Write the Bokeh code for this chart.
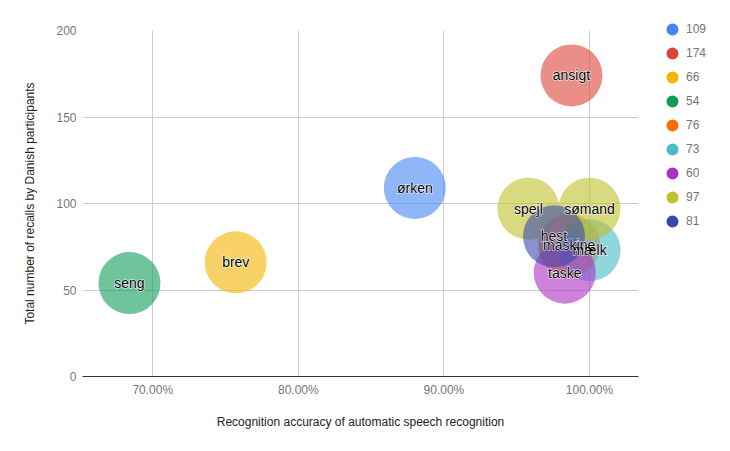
from bokeh.plotting import figure
from bokeh.models import ColumnDataSource, FixedTicker, NumeralTickFormatter, Range1d, Legend, LegendItem
from bokeh.embed import file_html
from bokeh.resources import INLINE
from bokeh.core.properties import value

# ---- data ----
words = ["ørken", "ansigt", "brev", "seng", "maskine", "mælk", "taske", "spejl", "sømand", "hest"]
accuracy = [0.880, 0.9876, 0.757, 0.684, 0.986, 1.000, 0.983, 0.958, 1.000, 0.9756]
recalls = [109, 174, 66, 54, 76, 73, 60, 97, 97, 81]
series = ["109", "174", "66", "54", "76", "73", "60", "97", "81"]
series_colors = ["#4285f4", "#db4437", "#f4b400", "#0f9d58", "#ff6d00",
                 "#46bdc6", "#ab30c4", "#c0c02a", "#3949ab"]
x_ticks = [0.7, 0.8, 0.9, 1.0]
y_ticks = [0, 50, 100, 150, 200]

FONT = "Liberation Sans"
cmap = dict(zip(series, series_colors))
point_colors = [cmap[str(v)] for v in recalls]

src = ColumnDataSource(dict(x=accuracy, y=recalls, word=words, color=point_colors))

p = figure(width=730, height=451, output_backend="svg", toolbar_location=None,
           x_range=Range1d(0.65174, 1.03364), y_range=Range1d(0, 200),
           frame_width=556, frame_height=346,
           min_border_left=82, min_border_right=92, min_border_top=30, min_border_bottom=75)
p.outline_line_color = None
p.background_fill_color = "white"

p.scatter("x", "y", source=src, size=62, fill_color="color", fill_alpha=0.6, line_color=None)
p.text("x", "y", text="word", source=src, text_align="center", text_baseline="middle",
       text_font=value(FONT), text_font_size="14px", text_color="white",
       text_outline_color="white")
p.text("x", "y", text="word", source=src, text_align="center", text_baseline="middle",
       text_font=value(FONT), text_font_size="14px", text_color="black")

# axes
p.xaxis.ticker = FixedTicker(ticks=x_ticks)
p.yaxis.ticker = FixedTicker(ticks=y_ticks)
p.xaxis.formatter = NumeralTickFormatter(format="0.00%")
p.xaxis.axis_label = "Recognition accuracy of automatic speech recognition"
p.yaxis.axis_label = "Total number of recalls by Danish participants"
for ax in (p.xaxis, p.yaxis):
    ax.major_tick_line_color = None
    ax.minor_tick_line_color = None
    ax.major_label_text_font = FONT
    ax.major_label_text_font_size = "12px"
    ax.major_label_text_color = "#757575"
    ax.axis_label_text_font = FONT
    ax.axis_label_text_font_size = "12px"
    ax.axis_label_text_font_style = "normal"
    ax.axis_label_text_color = "#222222"
p.yaxis.axis_line_color = None
p.xaxis.axis_line_color = "#333333"
p.xaxis.major_label_standoff = 0
p.xaxis.axis_label_standoff = 15
p.yaxis.major_label_standoff = 0
p.yaxis.axis_label_standoff = 16

p.xgrid.ticker = FixedTicker(ticks=x_ticks)
p.ygrid.ticker = FixedTicker(ticks=y_ticks)
p.grid.grid_line_color = "#cccccc"
p.grid.minor_grid_line_color = None

# legend (hidden proxy renderers holding each series' points, opaque legend dots)
items = []
for s, c in zip(series, series_colors):
    xs = [a for a, v in zip(accuracy, recalls) if str(v) == s]
    ys = [v for v in recalls if str(v) == s]
    r = p.scatter(x=xs, y=ys, size=12, fill_color=c, line_color=c, line_width=2.4)
    r.visible = False
    items.append(LegendItem(label=s, renderers=[r]))
legend = Legend(items=items, location=(22, 143), orientation="vertical",
                glyph_width=24, glyph_height=24, label_height=24, spacing=0,
                label_standoff=2, padding=0, margin=0, click_policy="none",
                border_line_color=None, background_fill_alpha=0,
                label_text_font=FONT, label_text_font_size="12px",
                label_text_color="#757575")
p.add_layout(legend, "right")

open("out.html", "w").write(file_html(p, INLINE))
